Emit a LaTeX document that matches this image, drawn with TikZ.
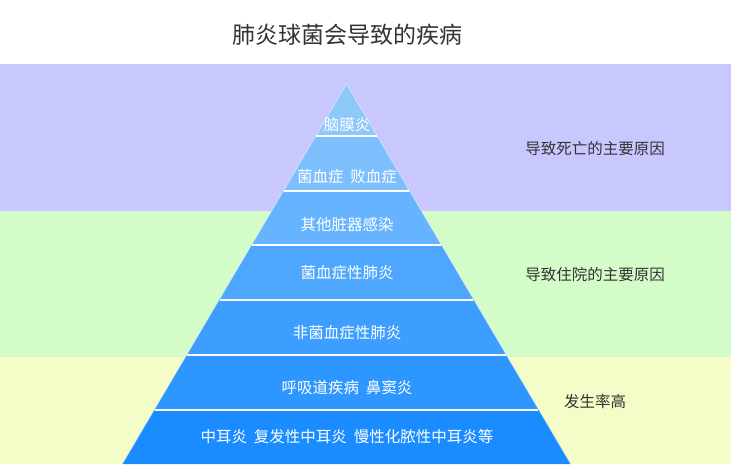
\documentclass[tikz,border=0pt]{standalone}
\usepackage{fontspec}
\newfontfamily\cjk{Noto Sans CJK SC}
\definecolor{bandpurple}{HTML}{C8C8FF}
\definecolor{bandgreen}{HTML}{D4FCC8}
\definecolor{bandyellow}{HTML}{F4FCC8}
\definecolor{txtgray}{HTML}{333333}
\definecolor{lay1}{HTML}{8CC8FA}
\definecolor{lay2}{HTML}{7DBEFD}
\definecolor{lay3}{HTML}{66B3FF}
\definecolor{lay4}{HTML}{4EA7FF}
\definecolor{lay5}{HTML}{3D9EFF}
\definecolor{lay6}{HTML}{2E96FF}
\definecolor{lay7}{HTML}{1A8CFF}
\begin{document}
\begin{tikzpicture}[x=1pt,y=-1pt,
  pyrtext/.style={font=\cjk\fontsize{15.5}{16}\selectfont, text=white, inner sep=0pt},
  sidetext/.style={font=\cjk\fontsize{15.5}{16}\selectfont, text=txtgray, inner sep=0pt},
  titletext/.style={font=\cjk\fontsize{23}{24}\selectfont, text=txtgray, inner sep=0pt},
  sep/.style={white, line width=2pt}]
\useasboundingbox (0,0) rectangle (731,464);
\fill[white] (0,0) rectangle (731,64);
\fill[bandpurple] (0,64) rectangle (731,211);
\fill[bandgreen] (0,211) rectangle (731,357);
\fill[bandyellow] (0,357) rectangle (731,464);
% pyramid layers
\fill[lay1] (346.5,84) -- (376.6,135) -- (316.4,135) -- cycle;
\fill[lay2] (316.4,135) -- (376.6,135) -- (409.0,190) -- (284.0,190) -- cycle;
\fill[lay3] (284.0,190) -- (409.0,190) -- (440.9,244) -- (252.1,244) -- cycle;
\fill[lay4] (252.1,244) -- (440.9,244) -- (473.4,299) -- (219.6,299) -- cycle;
\fill[lay5] (219.6,299) -- (473.4,299) -- (505.8,354) -- (187.2,354) -- cycle;
\fill[lay6] (187.2,354) -- (505.8,354) -- (538.3,409) -- (154.7,409) -- cycle;
\fill[lay7] (154.7,409) -- (538.3,409) -- (570.7,464) -- (122.3,464) -- cycle;
\draw[white, opacity=0.45, line width=0.8pt] (122.3,464) -- (346.5,84) -- (570.7,464);
\draw[sep] (316.4,136) -- (376.6,136);
\draw[sep] (284.0,191) -- (409.0,191);
\draw[sep] (252.1,245) -- (440.9,245);
\draw[sep] (219.6,300) -- (473.4,300);
\draw[sep] (187.2,355) -- (505.8,355);
\draw[sep] (154.7,410) -- (538.3,410);
% texts
\node[titletext] (title) at (347,35) {肺炎球菌会导致的疾病};
\node[pyrtext] (t1) at (347,125) {脑膜炎};
\node[pyrtext] (t2) at (347,177) {菌血症\hspace{0.45em}败血症};
\node[pyrtext] (t3) at (347,225) {其他脏器感染};
\node[pyrtext] (t4) at (347,273) {菌血症性肺炎};
\node[pyrtext] (t5) at (347,333) {非菌血症性肺炎};
\node[pyrtext] (t6) at (347,388) {呼吸道疾病\hspace{0.45em}鼻窦炎};
\node[pyrtext] (t7) at (347,437) {中耳炎\hspace{0.45em}复发性中耳炎\hspace{0.45em}慢性化脓性中耳炎等};
\node[sidetext] (s1) at (595,149) {导致死亡的主要原因};
\node[sidetext] (s2) at (595,275) {导致住院的主要原因};
\node[sidetext] (s3) at (595,402) {发生率高};
\end{tikzpicture}
\end{document}
